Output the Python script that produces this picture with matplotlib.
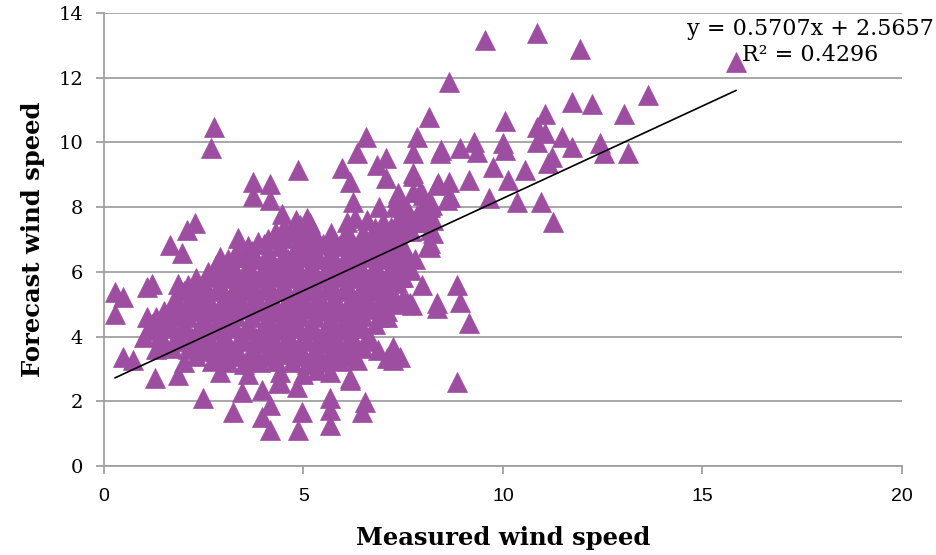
import matplotlib
matplotlib.use("Agg")
import matplotlib.pyplot as plt
import numpy as np

# measured vs forecast wind speed
upper_points = [
    (9.55, 13.16), (10.85, 13.38), (11.93, 12.89), (15.84, 12.48), (8.65, 11.87),
    (11.73, 11.25), (12.23, 11.19), (13.63, 11.46), (13.03, 10.88), (8.15, 10.78),
    (10.05, 10.66), (11.05, 10.88), (10.85, 10.48), (7.84, 10.17), (7.74, 9.67),
    (8.45, 9.77), (8.92, 9.83), (9.27, 10.01), (9.35, 9.70), (10.0, 9.98),
    (10.05, 9.77), (10.85, 10.01), (11.05, 10.29), (11.48, 10.17), (11.73, 9.86),
    (12.43, 9.98), (12.53, 9.67), (13.13, 9.67), (11.23, 9.55), (11.13, 9.36),
    (7.74, 9.05), (9.75, 9.24), (10.55, 9.15), (8.37, 8.75), (8.65, 8.78),
    (9.15, 8.84), (10.13, 8.84), (8.60, 8.22), (9.65, 8.28), (10.35, 8.16),
    (10.95, 8.16), (11.25, 7.54), (7.92, 8.47), (8.17, 8.13),
]

middle_points = [
    (2.76, 10.48), (2.68, 9.83), (4.86, 9.15), (3.73, 8.78), (4.16, 8.72),
    (3.73, 8.33), (4.16, 8.22), (4.46, 7.80), (5.96, 9.21), (6.57, 10.17),
    (6.34, 9.67), (6.84, 9.30), (7.07, 9.52), (7.07, 8.90), (7.74, 8.96),
    (8.42, 9.67), (6.17, 8.78), (6.24, 8.16), (6.29, 7.66), (6.09, 7.54),
    (8.35, 8.68), (7.37, 8.44), (7.74, 8.47), (7.99, 8.37), (8.67, 8.31),
    (8.22, 8.07), (7.42, 8.00), (7.84, 7.76), (8.17, 7.29), (8.17, 6.77),
    (7.92, 7.54), (7.42, 7.39), (7.24, 6.98), (7.49, 6.67), (7.42, 6.27),
    (8.25, 7.20), (8.12, 6.80), (7.34, 8.31), (7.47, 7.85), (8.17, 8.00),
    (8.25, 7.60), (8.17, 6.89), (2.28, 7.51), (2.08, 7.29), (1.65, 6.83),
    (1.95, 6.58), (3.36, 7.05), (3.86, 6.92), (2.91, 6.46), (3.41, 6.46),
    (5.16, 7.51), (4.74, 7.20), (4.29, 7.20), (5.74, 6.83), (6.09, 7.05),
    (6.34, 6.67), (6.74, 6.89), (7.04, 6.67),
]

right_low_points = [
    (7.09, 5.75), (7.42, 5.84), (7.97, 5.59), (7.67, 5.04), (8.35, 4.88),
    (8.85, 5.59), (8.92, 5.07), (9.15, 4.42), (7.17, 5.13), (7.09, 4.60),
    (7.24, 3.68), (7.34, 5.70), (6.84, 5.84), (7.59, 5.07), (8.35, 5.04),
    (7.72, 4.98), (8.85, 2.60), (7.42, 3.37), (6.87, 3.58), (7.09, 3.34),
    (7.24, 3.28),
]

lower_points = [
    (6.17, 2.66), (5.66, 2.90), (5.34, 2.97), (4.84, 2.44), (4.36, 2.56),
    (3.96, 2.35), (4.16, 1.89), (3.96, 1.51), (4.16, 1.11), (4.86, 1.11),
    (4.96, 1.67), (5.66, 2.10), (5.66, 1.73), (5.66, 1.27), (6.54, 1.98),
    (6.47, 1.67), (5.99, 3.37), (6.34, 3.28), (3.23, 1.67), (3.46, 2.29),
    (2.48, 2.10), (1.85, 2.81), (1.28, 2.72), (0.48, 3.37), (0.73, 3.28),
    (4.41, 2.60), (6.17, 2.72),
]

left_points = [
    (0.28, 5.38), (0.48, 5.22), (0.28, 4.70), (1.08, 5.53), (1.20, 5.62),
    (1.85, 5.62), (2.28, 5.59), (1.08, 4.60), (1.48, 4.42), (1.65, 4.60),
    (1.90, 4.65), (2.16, 4.91), (2.40, 5.04),
]

cluster_points = [
    (6.9, 8.0), (7.3, 8.05), (7.6, 7.95), (8.0, 8.0),
    (4.8, 7.6), (5.1, 7.65), (6.6, 7.6), (7.0, 7.55), (7.4, 7.6), (7.8, 7.6), (8.1, 7.55),
    (4.3, 7.2), (4.7, 7.25), (5.0, 7.2), (5.3, 7.15), (5.7, 7.2), (6.1, 7.25),
    (6.5, 7.2), (6.9, 7.15), (7.3, 7.2), (7.7, 7.25),
    (3.6, 6.8), (4.0, 6.85), (4.4, 6.8), (4.8, 6.75), (5.2, 6.8), (5.5, 6.85),
    (5.9, 6.8), (6.3, 6.75), (6.7, 6.8), (7.1, 6.85), (7.5, 6.8),
    (3.1, 6.4), (3.4, 6.45), (3.8, 6.4), (4.2, 6.35), (4.6, 6.4), (5.0, 6.45),
    (5.4, 6.4), (5.8, 6.35), (6.2, 6.4), (6.6, 6.45), (7.0, 6.4), (7.4, 6.35), (7.8, 6.4),
    (2.6, 6.0), (2.9, 6.05), (3.3, 6.0), (3.7, 5.95), (4.1, 6.0), (4.5, 6.05),
    (4.9, 6.0), (5.3, 5.95), (5.7, 6.0), (6.1, 6.05), (6.5, 6.0), (6.9, 5.95),
    (7.3, 6.0), (7.7, 6.05),
    (2.1, 5.6), (2.5, 5.65), (2.9, 5.6), (3.3, 5.55), (3.7, 5.6), (4.1, 5.65),
    (4.5, 5.6), (4.9, 5.55), (5.3, 5.6), (5.7, 5.65), (6.1, 5.6), (6.5, 5.55),
    (6.9, 5.6), (7.3, 5.65),
    (1.8, 5.2), (2.2, 5.25), (2.6, 5.2), (3.0, 5.15), (3.4, 5.2), (3.8, 5.25),
    (4.2, 5.2), (4.6, 5.15), (5.0, 5.2), (5.4, 5.25), (5.8, 5.2), (6.2, 5.15),
    (6.6, 5.2), (7.0, 5.25), (7.5, 5.2),
    (1.5, 4.8), (1.9, 4.85), (2.3, 4.8), (2.7, 4.75), (3.1, 4.8), (3.5, 4.85),
    (3.9, 4.8), (4.3, 4.75), (4.7, 4.8), (5.1, 4.85), (5.5, 4.8), (5.9, 4.75),
    (6.3, 4.8), (6.7, 4.85), (7.1, 4.8),
    (1.2, 4.4), (1.6, 4.45), (2.0, 4.4), (2.4, 4.35), (2.8, 4.4), (3.2, 4.45),
    (3.6, 4.4), (4.0, 4.35), (4.4, 4.4), (4.8, 4.45), (5.2, 4.4), (5.6, 4.35),
    (6.0, 4.4), (6.4, 4.45), (6.8, 4.4),
    (1.0, 4.0), (1.4, 4.05), (1.8, 4.0), (2.2, 3.95), (2.6, 4.0), (3.0, 4.05),
    (3.4, 4.0), (3.8, 3.95), (4.2, 4.0), (4.6, 4.05), (5.0, 4.0), (5.4, 3.95),
    (5.8, 4.0), (6.2, 4.05), (6.6, 4.0),
    (1.3, 3.6), (1.7, 3.65), (2.1, 3.6), (2.5, 3.55), (2.9, 3.6), (3.3, 3.65),
    (3.7, 3.6), (4.1, 3.55), (4.5, 3.6), (4.9, 3.65), (5.3, 3.6), (5.7, 3.55),
    (6.1, 3.6), (6.5, 3.65),
    (2.0, 3.2), (2.7, 3.25), (3.1, 3.2), (3.5, 3.15), (3.9, 3.2), (4.3, 3.25),
    (4.7, 3.2), (5.1, 3.15), (5.5, 3.2), (5.9, 3.25),
    (2.9, 2.9), (3.6, 2.85), (4.4, 2.9), (5.0, 2.85),
]

cluster_fill_points = [
    (4.5, 7.4), (4.9, 7.45), (5.2, 7.4), (6.8, 7.35), (7.2, 7.4), (7.6, 7.45),
    (4.1, 7.0), (4.5, 7.05), (4.9, 7.0), (5.3, 6.95), (5.7, 7.0), (6.1, 6.95),
    (6.5, 7.0), (6.9, 7.05), (7.3, 7.0),
    (3.3, 6.6), (3.7, 6.65), (4.1, 6.6), (4.5, 6.55), (4.9, 6.6), (5.3, 6.65),
    (5.7, 6.6), (6.1, 6.55), (6.5, 6.6), (6.9, 6.65), (7.3, 6.6),
    (2.8, 6.2), (3.2, 6.25), (3.6, 6.2), (4.0, 6.15), (4.4, 6.2), (4.8, 6.25),
    (5.2, 6.2), (5.6, 6.15), (6.0, 6.2), (6.4, 6.25), (6.8, 6.2), (7.2, 6.15), (7.6, 6.2),
    (2.3, 5.8), (2.7, 5.85), (3.1, 5.8), (3.5, 5.75), (3.9, 5.8), (4.3, 5.85),
    (4.7, 5.8), (5.1, 5.75), (5.5, 5.8), (5.9, 5.85), (6.3, 5.8), (6.7, 5.75),
    (7.1, 5.8), (7.5, 5.85),
    (2.0, 5.4), (2.4, 5.45), (2.8, 5.4), (3.2, 5.35), (3.6, 5.4), (4.0, 5.45),
    (4.4, 5.4), (4.8, 5.35), (5.2, 5.4), (5.6, 5.45), (6.0, 5.4), (6.4, 5.35),
    (6.8, 5.4), (7.2, 5.45),
    (1.7, 5.0), (2.1, 5.05), (2.5, 5.0), (2.9, 4.95), (3.3, 5.0), (3.7, 5.05),
    (4.1, 5.0), (4.5, 4.95), (4.9, 5.0), (5.3, 5.05), (5.7, 5.0), (6.1, 4.95),
    (6.5, 5.0), (6.9, 5.05), (7.3, 5.0),
    (1.3, 4.6), (1.7, 4.65), (2.1, 4.6), (2.5, 4.55), (2.9, 4.6), (3.3, 4.65),
    (3.7, 4.6), (4.1, 4.55), (4.5, 4.6), (4.9, 4.65), (5.3, 4.6), (5.7, 4.55),
    (6.1, 4.6), (6.5, 4.65), (6.9, 4.6),
    (1.1, 4.2), (1.6, 4.25), (2.0, 4.2), (2.4, 4.15), (2.8, 4.2), (3.2, 4.25),
    (3.6, 4.2), (4.0, 4.15), (4.4, 4.2), (4.8, 4.25), (5.2, 4.2), (5.6, 4.15),
    (6.0, 4.2), (6.4, 4.25),
    (1.5, 3.8), (1.9, 3.85), (2.3, 3.8), (2.7, 3.75), (3.1, 3.8), (3.5, 3.85),
    (3.9, 3.8), (4.3, 3.75), (4.7, 3.8), (5.1, 3.85), (5.5, 3.8), (5.9, 3.75),
    (6.3, 3.8), (6.7, 3.85),
    (2.3, 3.4), (2.9, 3.45), (3.3, 3.4), (3.7, 3.35), (4.1, 3.4), (4.5, 3.45),
    (4.9, 3.4), (5.3, 3.35), (5.7, 3.4), (6.1, 3.45),
]

slope = 0.5707
intercept = 2.5657
r_squared = 0.4296

x_ticks = [0, 5, 10, 15, 20]
y_ticks = [0, 2, 4, 6, 8, 10, 12, 14]

all_points = (upper_points + middle_points + right_low_points + lower_points
              + left_points + cluster_points + cluster_fill_points)
measured = np.array([p[0] for p in all_points])
forecast = np.array([p[1] for p in all_points])

purple = "#9D4EA0"
grey = "#A0A0A0"

fig = plt.figure(figsize=(9.37, 5.55), dpi=100)
ax = fig.add_axes([0.111, 0.1604, 0.8516, 0.8162])

ax.plot(measured, forecast, linestyle="none", marker="^", markersize=14,
        color=purple, markeredgecolor=purple, markeredgewidth=0.5, zorder=3)

# linear trendline over the data range
xl = np.array([measured.min(), measured.max()])
ax.plot(xl, slope * xl + intercept, color="black", linewidth=1.2, zorder=4)

ax.text(17.7, 13.1, f"y = {slope}x + {intercept}\nR² = {r_squared}",
        ha="center", va="center", fontsize=16, family="DejaVu Serif",
        linespacing=1.2, zorder=5)

ax.set_xlim(0, 20)
ax.set_ylim(0, 14)
ax.set_xticks(x_ticks)
ax.set_yticks(y_ticks)
ax.yaxis.grid(True, color=grey, linewidth=1.3)
ax.set_axisbelow(True)

for side in ["top", "right"]:
    ax.spines[side].set_visible(False)
for side in ["left", "bottom"]:
    ax.spines[side].set_color(grey)
    ax.spines[side].set_linewidth(1.3)

ax.tick_params(axis="both", direction="out", color=grey, width=1.3, length=6)
ax.tick_params(axis="x", pad=10, labelsize=14)
ax.tick_params(axis="y", pad=9)
for lab in ax.get_yticklabels():
    lab.set_family("DejaVu Serif")
    lab.set_fontsize(14)
for lab in ax.get_xticklabels():
    lab.set_family("Liberation Sans")

ax.set_xlabel("Measured wind speed", fontsize=17.5, fontweight="bold",
              family="DejaVu Serif")
ax.set_ylabel("Forecast wind speed", fontsize=17.5, fontweight="bold",
              family="DejaVu Serif")
ax.xaxis.set_label_coords(0.5, -0.159)
ax.xaxis.label.set_va("center")
ax.yaxis.set_label_coords(-0.089, 0.5)
ax.yaxis.label.set_va("center")

fig.savefig("out.png", dpi=100)
